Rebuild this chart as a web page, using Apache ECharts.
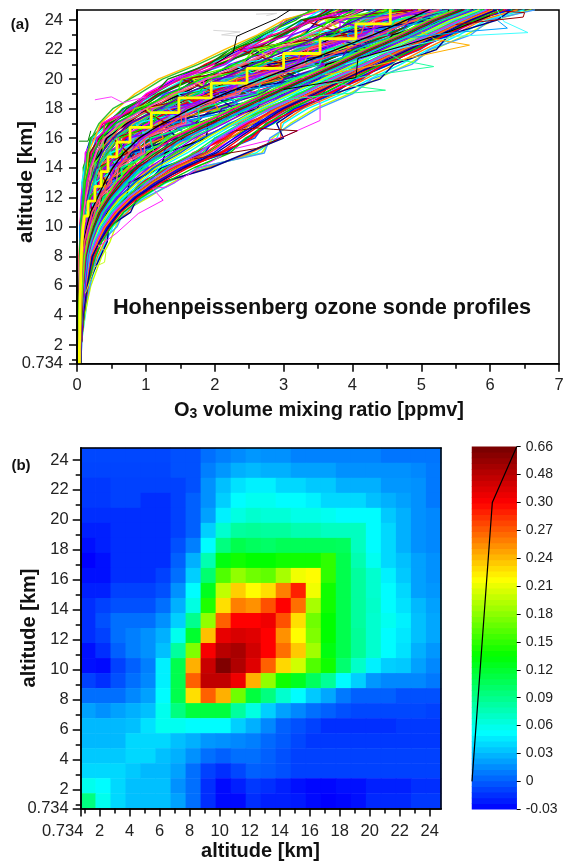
<!DOCTYPE html>
<html>
<head>
<meta charset="utf-8">
<style>html,body{margin:0;padding:0;background:#fff}#main{width:564px;height:864px}</style>
<script src="https://cdn.jsdelivr.net/npm/echarts@6/dist/echarts.min.js"></script>
</head>
<body>
<div id="main"></div>
<script>
// panel (a): altitude levels [km] of the sonde profiles below
var profileAlts = [0.8, 2, 4, 6, 8, 9, 10, 11, 12, 13, 14, 15, 16, 17, 18, 19, 20, 21, 22, 23, 24, 24.7];
// O3 in 1/100 ppmv, one row per sonde
var profiles = [
[3,3,3,3,4,4,5,6,7,8,11,13,20,42,68,108,142,188,238,272,312,348],
[2,3,3,3,3,4,4,6,8,9,10,15,24,38,74,102,150,186,232,280,305,350],
[3,2,3,4,4,5,6,7,7,10,9,16,19,44,66,112,148,196,228,270,318,340],
[4,3,3,3,4,4,5,5,6,8,12,12,26,36,78,100,140,200,240,282,300,362],
[3,3,4,3,4,5,5,7,9,7,11,18,22,48,72,118,156,192,246,276,330,355],
[3,3,3,4,5,5,6,7,9,12,14,22,30,46,82,120,160,205,250,295,335,380],
[2,3,3,3,4,6,6,9,10,14,20,24,36,62,92,138,176,232,270,325,355,395],
[3,4,3,4,5,5,7,7,11,12,17,28,40,58,98,130,185,226,282,315,368,385],
[4,3,4,4,4,6,6,8,9,15,19,25,35,64,90,142,172,238,268,330,350,400],
[3,3,3,3,5,5,5,9,12,13,16,30,42,56,102,128,190,222,288,312,372,392],
[3,3,3,5,5,6,7,10,10,16,22,29,44,70,110,148,198,244,296,340,385,420],
[3,4,4,4,6,7,9,9,13,18,26,36,50,80,114,158,212,258,305,366,402,430],
[2,3,3,4,5,6,8,11,16,19,29,40,55,74,122,164,205,266,318,352,410,442],
[4,3,4,5,6,6,7,10,12,22,25,35,48,84,116,155,218,252,308,368,398,448],
[3,3,4,4,5,8,8,12,15,21,30,42,58,76,126,170,208,270,322,360,418,436],
[3,4,3,4,5,7,9,9,17,18,24,44,52,88,112,160,222,262,300,372,408,450],
[4,4,4,5,7,7,10,13,18,26,34,44,62,92,130,178,226,280,330,382,428,462],
[3,3,4,5,6,8,9,14,22,28,38,50,70,98,138,186,238,290,342,392,440,480],
[3,4,4,4,6,7,11,12,19,25,36,46,60,90,128,180,228,278,336,380,444,468],
[4,3,3,5,7,9,10,15,21,30,32,52,68,102,142,176,240,292,328,398,430,476],
[3,4,5,4,7,8,12,13,20,24,40,47,72,94,134,190,230,284,345,384,448,460],
[3,3,4,6,6,8,9,16,24,29,35,54,64,100,140,188,244,276,332,395,436,482],
[4,4,3,5,6,10,11,14,18,27,42,45,74,96,146,184,234,298,340,388,426,470],
[4,4,4,5,6,8,12,16,26,35,45,58,77,108,148,195,247,300,353,405,455,490],
[3,4,4,5,7,9,13,17,24,37,48,55,80,112,152,200,242,306,348,410,450,498],
[4,3,4,6,6,8,11,15,28,33,43,62,74,104,144,192,252,295,360,400,462,485],
[3,4,5,5,8,8,12,18,25,38,46,56,82,110,156,188,250,308,350,414,446,502],
[4,4,4,4,6,10,14,16,29,32,50,60,76,118,150,204,240,296,358,398,460,492],
[4,3,5,5,7,9,12,19,27,36,44,64,84,106,142,198,258,304,346,412,470,488],
[3,4,4,6,8,8,11,17,23,40,47,57,79,116,158,190,244,312,362,402,452,505],
[4,4,4,5,7,9,15,14,30,34,52,61,72,102,154,208,254,292,352,420,458,495],
[3,4,5,5,6,11,13,20,26,39,42,66,86,114,146,196,260,310,344,408,468,500],
[4,4,4,6,8,9,15,21,32,44,56,72,95,130,172,222,275,330,385,435,485,520],
[4,3,5,5,7,10,16,20,34,46,52,76,92,136,168,228,270,338,378,442,478,530],
[3,4,4,6,9,9,14,23,30,42,60,70,100,126,178,216,282,325,392,430,492,515],
[4,5,5,6,8,11,17,22,35,48,54,78,90,138,166,230,268,336,380,448,480,528],
[4,4,4,7,7,10,15,19,31,45,58,68,98,124,180,220,284,322,395,428,495,512],
[3,4,5,5,8,12,14,24,36,40,62,74,104,132,170,234,272,342,376,440,488,535],
[4,4,6,7,10,10,18,21,28,50,55,80,88,140,176,218,288,320,388,452,476,522],
[5,4,5,6,9,13,16,25,33,47,64,66,96,128,184,226,266,334,398,432,498,540],
[4,5,5,8,10,13,20,28,42,56,72,92,120,160,205,255,310,365,415,465,515,550],
[4,4,6,7,11,12,21,26,45,58,68,98,116,166,200,262,304,372,410,472,508,558],
[4,5,5,8,9,15,19,30,40,60,76,88,126,156,212,250,316,360,422,460,522,545],
[5,4,6,9,12,14,22,27,46,52,70,96,122,170,198,264,302,376,408,478,510,565],
[4,5,6,8,10,16,20,31,38,62,78,90,114,154,214,248,320,358,424,458,526,540],
[4,4,5,7,11,12,23,29,44,54,74,100,128,164,208,260,312,370,412,470,505,555],
[5,5,7,9,13,15,18,32,43,59,80,86,118,172,196,268,300,368,428,462,520,560],
[4,5,6,10,10,17,24,26,41,64,66,104,130,158,216,252,322,355,418,476,512,548],
[5,5,6,9,13,19,27,38,55,74,95,122,155,200,250,300,350,400,448,498,540,575],
[4,5,7,10,12,18,29,36,58,70,100,118,162,194,256,294,356,396,456,490,548,568],
[5,4,6,11,15,20,25,40,52,78,92,128,150,208,244,306,344,408,444,504,532,580],
[5,6,8,9,14,22,30,37,60,72,102,116,166,196,258,290,360,392,458,488,552,565],
[4,5,7,12,16,19,26,42,50,80,90,130,148,210,240,308,340,410,440,506,530,585],
[5,5,6,10,13,21,28,35,57,68,98,124,158,192,252,296,352,398,452,494,542,578],
[5,6,9,11,17,24,32,44,62,82,106,120,170,212,260,294,364,390,460,500,554,560],
[4,5,7,13,14,18,24,39,48,76,88,134,146,190,238,310,338,414,438,488,530,590],
[5,6,8,14,18,26,36,50,72,96,130,175,210,250,295,345,385,430,475,520,565,600],
[6,5,7,12,20,24,38,48,76,92,136,170,216,246,302,340,392,424,482,515,572,592],
[5,6,9,15,17,28,34,52,68,100,124,182,204,256,288,352,378,438,468,528,556,610],
[5,5,8,13,22,27,40,46,78,90,140,168,220,242,306,336,396,422,486,512,576,588],
[6,6,8,16,19,30,33,55,66,104,122,186,200,260,284,356,374,442,464,532,552,615],
[5,6,10,14,21,25,39,47,74,94,132,172,214,248,298,342,388,428,478,518,568,596],
[6,5,7,17,24,29,42,54,80,108,144,188,222,264,308,358,400,444,490,535,582,620],
[5,6,9,18,26,32,44,58,84,112,148,192,230,268,312,362,404,446,492,540,584,622],
[6,6,12,18,32,42,52,72,96,130,185,260,290,300,335,385,425,470,510,555,595,650],
[5,6,11,20,36,48,56,66,104,138,178,268,284,310,345,395,435,480,518,565,605,660],
[6,5,9,16,30,40,48,74,92,126,190,252,296,296,328,378,418,462,504,548,588,640],
[5,7,8,19,28,36,58,68,100,142,175,272,280,314,350,400,428,486,512,572,600,665],
[6,6,10,15,34,44,46,78,88,122,195,246,300,290,322,372,440,460,522,540,610,632],
[3,3,3,4,4,5,5,7,8,10,14,20,30,50,82,120,162,210,255,298,335,368],
[3,3,4,3,5,5,6,6,9,9,15,18,33,47,88,116,168,206,262,292,342,360],
[2,3,3,4,4,4,4,8,7,11,12,22,28,54,78,126,158,216,250,304,328,375],
[3,4,3,3,5,6,6,7,9,12,16,19,32,48,86,118,166,208,258,296,340,365],
[3,3,3,4,4,5,7,9,10,13,14,23,35,46,92,122,170,204,266,300,345,372],
[3,3,4,4,5,6,7,9,12,16,22,32,45,69,106,148,195,245,292,340,382,412],
[3,4,3,4,5,7,8,10,13,15,24,30,48,66,112,142,202,240,298,334,390,405],
[4,3,4,5,6,5,6,9,11,18,21,35,42,74,102,154,190,252,286,348,376,420],
[3,3,4,4,5,7,9,8,14,16,25,31,47,64,110,146,200,238,300,336,388,408],
[3,4,3,5,4,6,7,11,12,17,20,34,43,72,104,152,192,250,288,344,378,418],
[4,3,4,4,6,7,8,10,15,14,24,28,50,68,108,144,198,242,296,342,386,402],
[3,4,4,5,6,7,9,11,17,23,31,43,59,86,126,171,221,272,322,374,420,452],
[4,3,4,5,6,8,10,12,16,25,29,46,56,92,120,176,216,280,316,380,414,460],
[3,4,5,4,5,7,8,10,19,21,33,41,63,84,132,166,226,268,328,370,426,445],
[4,4,3,5,7,8,9,13,15,26,30,47,55,90,122,178,214,278,318,378,416,458],
[3,3,4,6,6,7,10,11,18,22,34,40,62,82,130,168,228,266,326,368,424,448],
[4,4,4,5,6,9,8,12,16,24,28,45,60,88,124,174,218,274,320,376,418,455],
[3,4,4,5,6,8,11,14,23,31,40,53,71,101,141,188,240,292,344,396,445,480],
[4,4,5,5,7,8,10,16,21,33,38,56,68,106,136,194,236,298,338,402,440,486],
[3,3,4,6,6,9,12,13,25,29,43,50,74,98,146,184,244,288,350,390,450,474],
[4,4,4,5,7,7,10,15,20,34,37,57,67,104,138,192,234,300,336,400,438,488],
[4,3,5,5,8,9,13,14,24,30,42,52,73,97,144,186,246,286,348,392,452,472],
[3,4,4,6,7,8,11,15,22,32,41,55,70,103,140,190,238,294,342,398,442,482],
[4,4,5,6,8,9,13,18,29,39,50,65,86,119,160,208,261,315,369,420,470,505],
[4,3,4,6,7,10,12,20,27,41,48,68,83,124,156,214,256,322,362,426,466,512],
[3,4,5,5,8,9,14,17,31,37,53,62,90,116,166,204,266,310,374,416,476,498],
[4,4,4,7,7,11,12,19,28,42,47,69,82,122,154,212,254,320,364,428,464,510],
[4,4,5,5,9,9,15,18,30,36,52,63,88,114,164,202,268,308,376,414,474,500],
[3,4,5,6,7,10,13,19,26,40,49,67,84,120,158,210,258,318,366,422,468,508],
[4,5,5,7,9,12,17,24,37,50,64,82,107,145,188,238,292,347,400,450,500,535],
[4,4,6,6,10,11,19,22,39,48,67,78,112,140,194,232,298,342,406,444,506,528],
[5,4,5,7,8,13,16,26,35,53,61,86,104,150,184,244,288,352,396,456,496,542],
[4,5,5,8,9,12,18,23,40,47,66,80,110,142,192,234,300,340,404,446,504,530],
[4,4,6,6,10,13,16,25,36,52,62,85,105,148,186,242,286,350,398,454,498,540],
[5,4,6,7,9,11,19,24,38,49,65,79,109,143,190,236,296,345,402,448,502,532],
[4,5,6,8,11,14,23,33,48,65,84,107,137,180,228,278,332,385,435,485,530,565],
[5,4,6,9,10,15,21,35,46,68,80,112,132,186,222,284,326,392,428,492,524,572],
[4,5,7,8,12,13,25,31,50,62,88,102,142,174,234,272,338,378,442,478,536,558],
[5,5,6,9,11,16,22,34,47,67,82,110,134,184,224,282,328,390,430,490,526,570],
[4,5,7,8,12,14,24,32,49,63,87,104,140,176,232,274,336,380,440,480,534,560],
[5,5,6,10,11,15,21,36,45,66,81,111,135,182,226,280,330,388,432,488,528,568],
[5,5,7,11,14,20,31,44,63,85,110,145,180,228,275,325,372,418,465,512,555,590],
[5,6,7,10,15,19,33,42,66,82,114,140,186,222,280,320,378,412,470,506,560,584],
[5,5,8,12,13,22,29,46,60,88,106,150,174,234,270,330,366,424,460,518,550,596],
[6,5,7,10,16,18,34,41,67,81,116,138,188,220,282,318,380,410,472,504,562,582],
[5,6,8,11,14,21,30,45,61,87,107,148,176,232,272,328,368,422,462,516,552,594],
[5,6,7,13,15,20,32,43,65,83,112,142,184,224,278,322,376,414,468,508,558,586],
[6,5,8,12,18,27,42,60,85,115,155,212,250,280,320,368,408,450,492,538,580,625],
[5,6,9,13,20,25,45,56,90,110,160,205,258,274,326,362,414,444,498,532,586,618],
[6,6,8,14,17,30,40,62,82,118,150,218,244,286,314,374,402,456,486,544,574,632],
[5,5,10,11,21,26,44,58,88,112,158,208,254,278,322,366,410,448,494,536,582,622],
[6,6,9,15,19,28,39,63,81,120,152,216,246,284,316,372,404,454,488,542,576,630],
[5,6,8,12,22,24,43,57,87,113,157,210,252,276,324,364,412,446,496,534,584,620],
[4,4,5,6,9,9,14,15,29,28,53,52,92,96,166,160,254,250,352,352,462,450],
[3,4,4,6,7,10,10,18,20,34,36,60,60,104,110,184,184,285,282,382,382,485],
[4,4,5,6,8,8,16,14,32,27,58,48,104,85,180,146,276,225,372,328,470,430],
[3,4,4,5,7,8,11,20,18,40,32,72,56,128,100,200,168,295,262,395,360,500],
[5,4,6,6,10,10,22,20,44,38,76,70,125,118,205,190,300,270,398,370,495,470],
[4,5,5,7,8,13,13,28,24,54,44,96,78,165,132,250,210,345,300,440,400,530],
[5,5,7,8,13,12,26,22,50,42,88,76,146,124,228,196,326,276,425,362,520,465],
[4,4,5,8,8,16,12,30,22,58,40,100,72,172,122,262,196,360,280,455,372,550],
[5,6,6,10,12,18,22,34,38,66,64,112,106,178,176,262,268,352,362,450,462,545],
[5,5,8,9,15,15,30,26,58,48,104,84,165,138,245,210,340,295,432,390,528,490],
[4,4,5,7,7,12,10,22,18,42,30,74,52,130,92,206,152,300,236,392,328,495],
[3,3,4,5,6,7,9,12,14,18,22,30,36,54,72,112,132,192,222,290,325,395],
[3,3,4,4,5,6,6,9,13,13,20,21,38,40,84,104,152,196,246,284,348,385],
[4,4,4,5,5,8,8,11,13,20,20,38,38,68,84,146,152,240,256,350,365,450],
[5,6,7,11,15,21,26,38,48,70,86,126,134,200,210,290,300,380,392,470,482,555],
[5,5,8,10,17,20,28,36,52,74,96,118,148,185,222,272,312,368,405,462,498,545],
[6,6,9,14,20,24,36,44,72,76,122,128,188,190,262,270,352,362,442,458,536,540],
[4,4,6,9,10,14,19,26,30,50,52,94,88,152,150,230,232,320,325,412,420,510],
[3,4,5,5,9,8,13,18,19,37,35,66,62,112,116,176,192,268,292,372,395,470],
[5,5,6,8,12,16,20,30,34,57,60,98,98,158,158,236,248,330,336,430,432,525],
[4,5,5,7,11,11,18,22,34,46,55,76,94,134,158,214,244,318,346,418,446,515],
[6,5,7,10,16,22,28,42,54,78,92,134,150,204,232,282,316,376,418,474,520,568],
[3,3,3,4,5,5,6,8,10,11,15,16,26,34,58,84,118,170,214,262,300,352],
[3,3,4,4,4,6,6,7,9,10,13,15,21,32,52,90,124,176,222,266,308,345],
[3,4,4,4,5,6,8,9,12,14,18,27,29,52,76,110,146,214,242,310,338,410],
[5,5,7,10,14,22,30,42,60,84,112,150,182,224,262,306,352,400,446,496,540,580],
[5,6,8,12,17,25,36,50,70,98,128,170,200,238,276,322,364,414,458,508,552,590],
[6,6,9,13,20,29,40,56,78,106,140,186,216,250,288,334,378,424,470,518,564,600],
[5,6,9,14,23,31,44,60,84,114,150,198,228,262,296,340,382,430,476,524,568,606],
[6,6,10,16,25,34,48,64,90,122,162,208,238,270,304,350,392,440,486,532,574,612],
[6,5,10,15,27,36,50,68,94,128,170,222,246,276,312,356,398,442,488,530,578,618],
[5,6,8,13,19,28,38,54,76,102,136,178,206,244,280,328,368,416,462,510,556,596],
[5,6,8,12,18,24,34,48,68,92,120,160,194,230,268,314,360,406,452,500,546,586],
[5,5,7,11,16,23,32,46,64,88,116,154,188,226,264,310,356,402,448,498,542,584],
[6,6,9,14,21,30,41,58,80,110,146,192,222,256,292,338,384,428,474,522,566,604],
[5,5,8,11,18,26,37,52,74,104,134,176,204,240,284,330,372,420,466,514,560,594],
[6,6,9,15,22,33,46,62,86,118,156,202,234,266,300,346,388,436,482,528,572,610],
[5,6,8,12,16,22,30,40,58,78,104,138,170,214,254,302,346,394,442,490,536,574],
[5,5,7,10,15,20,28,38,54,72,98,132,166,208,248,296,342,390,436,486,532,570],
[4,5,7,10,14,19,26,36,50,70,92,124,158,202,246,290,338,386,432,482,526,566],
[5,5,7,9,13,18,25,34,48,66,88,118,152,196,240,286,334,382,428,478,522,562],
[5,5,6,9,12,17,24,32,46,62,84,114,146,190,236,282,330,378,424,474,518,558],
[4,5,6,9,12,16,22,30,44,60,80,108,140,184,230,276,326,374,420,470,514,552],
[4,4,6,8,11,15,21,29,42,56,76,102,134,178,224,270,320,370,416,466,510,548],
[3,3,4,4,5,6,8,11,15,20,28,36,52,78,120,158,208,256,308,358,406,438],
[4,3,4,5,6,7,9,12,17,24,32,41,56,86,128,172,222,272,326,376,424,460],
[3,4,5,6,7,9,14,20,30,40,52,68,90,124,166,214,268,322,376,430,478,512],
[4,4,5,6,8,11,16,22,34,46,60,76,100,136,176,226,280,334,390,440,490,526],
[3,3,3,4,4,5,6,8,10,12,17,24,34,56,94,134,180,228,276,328,372,404],
[3,3,4,4,5,6,7,10,13,17,21,28,40,62,100,140,188,238,288,336,382,416],
[4,4,4,5,6,8,12,17,24,34,44,60,78,112,152,200,254,306,358,412,458,494]
];
var profileColors = ['#0000ff','#ff0000','#00c800','#ff00ff','#00ffff','#c8ff00','#ff8000','#40a0ff','#000090','#8000ff','#00ff80','#0090ff','#a00000','#008000','#ff0080','#60ff00','#5000c0','#00c0c0','#000000','#ff5050','#00e000','#ff60a0','#a000ff','#00ffc0','#ffc000','#30c030','#e000e0','#0050ff','#00ff40','#ff2020'];
// single sondes that stick out of the bundle: [O3 ppmv, altitude km]
var outliers = [
  {c:'#40ffff', d:[[3.9,21],[4.6,22],[5.5,22.9],[6.55,23.15],[6.2,23.9],[6.1,24.7]]},
  {c:'#ffb000', d:[[3.6,20.3],[4.3,20.9],[5.0,21.6],[5.7,22.3],[5.2,22.7],[5.0,23.2]]},
  {c:'#20ffa0', d:[[3.5,19.5],[4.2,20.2],[5.18,20.85],[4.7,21.3],[4.5,21.8]]},
  {c:'#20ff90', d:[[3.0,18.6],[3.6,18.9],[4.48,19.25],[3.9,19.6],[3.6,20]]},
  {c:'#ff20ff', d:[[2.3,15.3],[3.0,16.1],[3.53,17.2],[3.53,18.4],[3.3,18.9]]},
  {c:'#800000', d:[[1.7,14.6],[2.6,15.3],[2.95,16],[3.2,16.5],[2.85,16.6],[2.6,16.7],[2.3,16.5]]},
  {c:'#ff20ff', d:[[0.3,8.6],[0.58,9.6],[0.89,10.9],[1.25,11.8],[1.1,12.6],[1.3,12.7],[1.75,13.9],[2.1,14.8]]},
  {c:'#d8d8d8', d:[[2.6,24.4],[2.9,24.45],[2.75,24.3]]},
  {c:'#d8d8d8', d:[[1.98,23.3],[2.37,23.2],[2.1,23.0],[2.37,22.9]]},
  {c:'#000000', d:[[2.0,21],[2.27,21.8],[2.32,22.9],[2.9,24.1],[3.1,24.7]]},
  {c:'#ff40ff', d:[[0.26,18.6],[0.5,18.8],[0.67,18.4],[1,18.8]]},
  {c:'#008000', d:[[0.03,15.8],[0.16,15.8],[0.2,16.5]]},
  {c:'#c8ff20', d:[[0.12,5.5],[0.14,5.7],[0.26,7.3],[0.4,7.6],[0.42,8.3],[0.3,8.8]]},
  {c:'#000000', d:[[3.0,19.3],[4.05,20.1],[4.08,21.4],[4.7,22.2],[5.4,23.2],[6,24.3]]},
  {c:'#00a0ff', d:[[4.8,22.8],[5.6,23.2],[6.25,23.45],[6.1,24]]},
  {c:'#a00000', d:[[5.5,23.7],[6.48,24.2],[6.5,24.5],[6.2,24.6]]}
];
// yellow stairs: median per 1 km bin, first bin starts at axisBottom
var medians = [0.035,0.04,0.04,0.045,0.05,0.055,0.06,0.07,0.085,0.11,0.16,0.26,0.35,0.45,0.58,0.77,1.08,1.48,1.95,2.47,3.0,3.53,4.05,4.55];

// panel (b): top row is 24 km, thousandths
var heatRows = [
[-7,-7,-7,-7,-7,-7,-4,-4,6,11,15,19,17,17,12,12,12,12,12,12,8,8,8,8],
[-8,-8,-8,-8,-8,-8,-4,-4,11,19,27,30,27,27,22,22,22,17,17,17,17,17,14,9],
[-12,-12,-9,-9,-9,-9,-9,-4,17,32,43,48,48,40,40,35,35,27,27,27,19,19,17,9],
[-12,-12,-9,-9,-15,-15,-9,1,17,37,52,57,57,52,52,48,40,40,40,32,27,22,17,9],
[-15,-15,-15,-15,-15,-15,-9,1,22,48,62,68,65,65,60,60,57,52,52,52,35,27,17,14],
[-20,-20,-15,-15,-15,-15,-9,1,37,68,84,86,84,84,78,78,73,73,73,52,40,27,17,14],
[-25,-20,-15,-15,-15,-15,-4,11,52,94,110,105,102,107,107,107,107,105,73,52,40,27,17,14],
[-30,-25,-15,-15,-15,-15,1,27,78,130,140,135,135,140,140,140,150,110,78,57,40,32,22,17],
[-25,-25,-15,-15,-15,-9,6,37,99,161,182,171,166,189,213,218,150,110,84,68,48,35,22,17],
[-20,-20,-9,-9,-9,-4,17,52,125,197,233,218,228,259,290,213,140,110,84,68,52,40,22,19],
[-15,-9,-4,-4,-4,6,27,62,145,228,259,253,274,300,264,189,140,110,84,70,52,43,30,22],
[-15,-4,6,6,6,17,37,89,182,269,300,300,339,274,228,171,135,110,84,68,57,48,32,24],
[-15,-9,6,11,17,27,58,120,238,360,400,380,300,253,218,176,135,110,86,68,52,45,32,24],
[-25,-15,1,11,17,32,84,176,318,484,525,420,300,264,235,187,130,110,86,68,52,43,27,19],
[-25,-27,-9,1,11,48,110,243,440,630,505,380,269,230,202,161,140,99,70,48,37,35,22,14],
[-9,-15,-4,6,14,48,110,269,463,463,339,243,182,140,125,105,86,52,37,19,14,14,14,9],
[6,6,6,14,22,52,110,228,269,243,171,115,94,68,52,35,24,9,1,1,1,-4,-4,-4],
[22,17,22,27,32,58,94,115,115,115,84,62,37,22,14,6,1,-4,-7,-7,-7,-7,-7,-9],
[30,30,30,32,43,57,57,52,52,52,37,27,14,1,-4,-9,-15,-15,-15,-15,-15,-12,-12,-12],
[30,30,30,40,40,40,32,27,19,17,14,11,4,-1,-7,-12,-12,-12,-12,-12,-12,-12,-12,-12],
[35,35,35,40,40,32,27,17,6,1,6,6,1,-4,-9,-9,-9,-9,-9,-9,-9,-9,-9,-9],
[40,40,40,35,30,30,22,6,-9,-15,-7,1,-1,-4,-9,-9,-9,-9,-9,-9,-9,-9,-9,-9],
[58,52,40,32,32,32,17,6,-15,-27,-20,-12,-15,-20,-25,-28,-28,-25,-25,-20,-20,-20,-15,-15],
[94,58,40,32,32,32,22,6,-15,-27,-27,-15,-20,-20,-22,-27,-30,-28,-25,-17,-17,-17,-12,-12]
];
var colorbarLabels = ['-0.03','0','0.03','0.06','0.09','0.12','0.15','0.18','0.21','0.24','0.27','0.30','0.48','0.66'];
var colorbarCurve = [[0,1],[0.30,11],[0.66,13]];

var axisBottom = 0.734;
var altMajor = [0.734,2,4,6,8,10,12,14,16,18,20,22,24];
var altMinor = [1,3,5,7,9,11,13,15,17,19,21,23];
var rampColors = ['#0000ff','#00ffff','#00ff00','#ffff00','#ff0000','#400000'];
var font = '"Liberation Sans", Arial, sans-serif';
var tickFont = 16.5;

// colorbar has equal spaced ticks, so the value has to go through this first
function colorPos(v) {
    return v <= 0.30 ? (v + 0.03) / 0.03 : 11 + (v - 0.30) / 0.18;
}

function altAxis(grid, max, dim, minor) {
    var a = {
        type: 'value', gridIndex: grid, min: axisBottom, max: max, z: 5,
        splitLine: {show: false},
        axisLine: {onZero: false, lineStyle: {color: '#000', width: 1.5}},
        axisTick: {length: minor ? 5 : 8, customValues: minor ? altMinor : altMajor, lineStyle: {color: '#000', width: 1.5}},
        axisLabel: {show: !minor, customValues: altMajor, hideOverlap: false, fontFamily: font, fontSize: tickFont, color: '#222',
            margin: grid == 0 ? 14 : 12, showMinLabel: true, showMaxLabel: true}
    };
    if (dim == 'x') {
        a.position = 'bottom';
        a.axisLabel.margin = 14;
        // 0.734 is pushed left so it clears the 2
        a.axisLabel.formatter = function (v) {
            return v == axisBottom ? '{shift|0.734}' : String(v);
        };
        a.axisLabel.rich = {shift: {padding: [0, 36, 0, 0], fontFamily: font, fontSize: tickFont, color: '#222'}};
    } else {
        a.position = 'left';
    }
    return a;
}

function frameAxis(type, grid, pos, data) {
    return {
        type: type, gridIndex: grid, position: pos, data: data, z: 5,
        axisLine: {show: true, onZero: false, lineStyle: {color: '#000', width: 1.5}},
        axisTick: {show: false}, axisLabel: {show: false}, splitLine: {show: false}
    };
}

var cells = [];
for (var i = 0; i < 24; i++) cells.push(i);
var heatData = [];
heatRows.forEach(function (row, r) {
    row.forEach(function (v, c) {
        heatData.push([c, 23 - r, colorPos(v / 1000)]);
    });
});

var bands = [], bandData = [];
for (var b = 0; b < 64; b++) {
    bands.push(b);
    bandData.push([0, b, (b + 0.5) * 13 / 64]);
}

var series = [];
profiles.forEach(function (p, k) {
    series.push({
        type: 'line', xAxisIndex: 0, yAxisIndex: 0, showSymbol: false, silent: true, animation: false,
        lineStyle: {width: 1.4, color: profileColors[k % profileColors.length]},
        data: p.map(function (x, j) { return [x / 100, profileAlts[j]]; })
    });
});
outliers.forEach(function (o) {
    series.push({
        type: 'line', xAxisIndex: 0, yAxisIndex: 0, showSymbol: false, silent: true, animation: false,
        lineStyle: {width: 1, color: o.c}, data: o.d
    });
});
var stairs = [];
medians.forEach(function (m, k) {
    stairs.push([m, axisBottom + k]);
    stairs.push([m, axisBottom + k + 1]);
});
series.push({
    type: 'line', xAxisIndex: 0, yAxisIndex: 0, showSymbol: false, silent: true, animation: false, z: 4,
    lineStyle: {width: 2.8, color: '#ffff00'}, data: stairs
});
var heatIndex = series.length;
series.push({type: 'heatmap', xAxisIndex: 1, yAxisIndex: 2, data: heatData, silent: true, animation: false, progressive: 0});
series.push({type: 'heatmap', xAxisIndex: 4, yAxisIndex: 5, data: bandData, silent: true, animation: false, progressive: 0});
series.push({
    type: 'line', xAxisIndex: 5, yAxisIndex: 6, showSymbol: false, silent: true, animation: false, z: 4,
    lineStyle: {width: 1.2, color: '#000'}, data: colorbarCurve
});

function label(text, x, y, size, rotation, extra) {
    var s = {text: text, x: 0, y: 0, align: 'center', verticalAlign: 'middle', fontFamily: font, fontWeight: 'bold', fontSize: size, fill: '#111'};
    if (extra) s.rich = extra;
    return {type: 'text', x: x, y: y, rotation: rotation || 0, style: s, z: 10};
}

var option = {
    animation: false,
    backgroundColor: '#fff',
    grid: [
        // outerBoundsMode none, otherwise the 7 label squeezes the plot
        {left: 77, top: 10, width: 482, height: 353.7, show: true, borderColor: '#000', borderWidth: 1.5, outerBoundsMode: 'none'},
        {left: 80.7, top: 448, width: 360.5, height: 360.5, outerBoundsMode: 'none'},
        {left: 472, top: 446.7, width: 44.7, height: 362.6, outerBoundsMode: 'none'}
    ],
    xAxis: [
        {type: 'value', gridIndex: 0, position: 'bottom', min: 0, max: 7, interval: 1, z: 5, splitLine: {show: false},
            axisLine: {onZero: false, lineStyle: {color: '#000', width: 1.5}},
            axisTick: {length: 8, lineStyle: {color: '#000', width: 1.5}},
            minorTick: {show: true, splitNumber: 2, length: 5, lineStyle: {color: '#000', width: 1.5}},
            axisLabel: {fontFamily: font, fontSize: tickFont, color: '#222', margin: 13}},
        {type: 'category', gridIndex: 1, data: cells, show: false},
        altAxis(1, 24.77, 'x', false),
        altAxis(1, 24.77, 'x', true),
        {type: 'category', gridIndex: 2, data: [0], show: false},
        {type: 'value', gridIndex: 2, min: 0, max: 0.66, show: false},
        frameAxis('value', 1, 'top')
    ],
    yAxis: [
        altAxis(0, 24.68, 'y', false),
        altAxis(0, 24.68, 'y', true),
        {type: 'category', gridIndex: 1, data: cells, show: false},
        altAxis(1, 24.8, 'y', false),
        altAxis(1, 24.8, 'y', true),
        {type: 'category', gridIndex: 2, data: bands, show: false},
        {type: 'value', gridIndex: 2, position: 'right', min: 0, max: 13, interval: 1, z: 5, splitLine: {show: false},
            axisLine: {show: false},
            axisTick: {show: true, length: 4, lineStyle: {color: '#000', width: 1}},
            axisLabel: {fontFamily: font, fontSize: 14, color: '#222', margin: 9,
                formatter: function (v) { return colorbarLabels[v]; }}},
        frameAxis('value', 1, 'right')
    ],
    visualMap: {
        show: false, seriesIndex: [heatIndex, heatIndex + 1], dimension: 2, min: 0, max: 13.75,
        inRange: {color: rampColors}
    },
    series: series,
    graphic: [
        label('(a)', 20, 25, 15),
        label('(b)', 21, 466, 15),
        label('altitude [km]', 26, 182, 20.5, Math.PI / 2),
        label('altitude [km]', 29, 628, 20, Math.PI / 2),
        label('altitude [km]', 260.5, 851, 20),
        label('Hohenpeissenberg ozone sonde profiles', 322, 308, 21.7),
        label('O{sub|3} volume mixing ratio [ppmv]', 319, 410, 20, 0,
            {sub: {fontFamily: font, fontWeight: 'bold', fontSize: 14, fill: '#111', verticalAlign: 'bottom', padding: [8, 0, 0, 0]}})
    ]
};

var myChart = echarts.init(document.getElementById('main'), null, {renderer: 'canvas'});
myChart.setOption(option);
</script>
</body>
</html>
